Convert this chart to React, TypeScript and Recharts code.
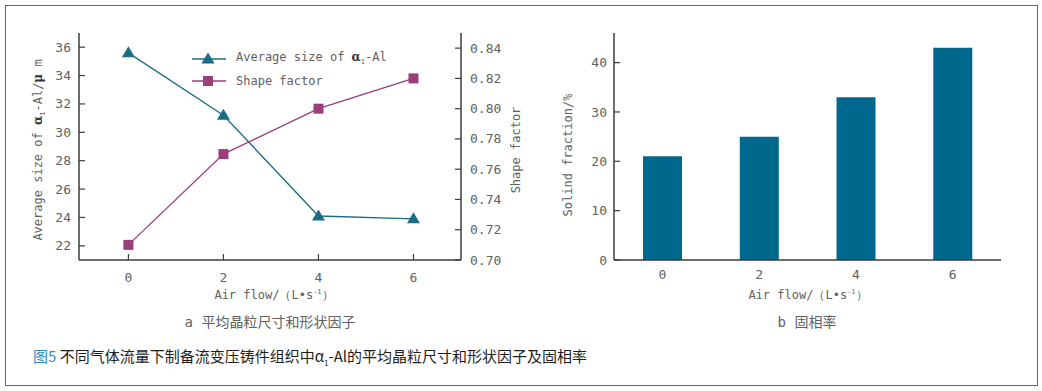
import React from "react";
import { ComposedChart, Line, BarChart, Bar, XAxis, YAxis, Legend } from "recharts";

// air flow, L/s
const airFlow = [0, 2, 4, 6];
// chart a
const avgGrainSize = [35.6, 31.2, 24.1, 23.9];
const shapeFactor = [0.71, 0.77, 0.8, 0.82];
// chart b
const solidFraction = [21, 25, 33, 43];

const flowTicks = [0, 2, 4, 6];
const sizeTicks = [22, 24, 26, 28, 30, 32, 34, 36];
const shapeTicks = [0.7, 0.72, 0.74, 0.76, 0.78, 0.8, 0.82, 0.84];
const fractionTicks = [0, 10, 20, 30, 40];

const lineData = airFlow.map((f, i) => ({ flow: f, size: avgGrainSize[i], shape: shapeFactor[i] }));
const barData = airFlow.map((f, i) => ({ flow: String(f), solid: solidFraction[i] }));

const TEAL = "#1b6c86";
const PLUM = "#9b3e7a";
const BAR = "#00688c";
const FRAME = "#3d3d3d";
const TEXT = "#616161";
const MONO = "'DejaVu Sans Mono', monospace";
const CJK = "'Noto Sans CJK SC', sans-serif";

const frameLine = { stroke: FRAME, strokeWidth: 1.5 };

// ticks point into the plot, so draw line + label ourselves
function LeftTick(props: any) {
    const { x, y, payload, mark = 6, gap = 8, digits } = props;
    const label = digits != null ? Number(payload.value).toFixed(digits) : payload.value;
    return (
        <g>
            {mark > 0 && <line x1={x} y1={y} x2={x + mark} y2={y} stroke={FRAME} strokeWidth={1.2} />}
            <text x={x - gap} y={y} dy="0.35em" textAnchor="end" fill={TEXT} fontSize={13} fontFamily={MONO}>
                {label}
            </text>
        </g>
    );
}

function RightTick(props: any) {
    const { x, y, payload, mark = 6, gap = 9, digits } = props;
    const label = digits != null ? Number(payload.value).toFixed(digits) : payload.value;
    return (
        <g>
            <line x1={x - mark} y1={y} x2={x} y2={y} stroke={FRAME} strokeWidth={1.2} />
            <text x={x + gap} y={y} dy="0.35em" textAnchor="start" fill={TEXT} fontSize={13} fontFamily={MONO}>
                {label}
            </text>
        </g>
    );
}

function BottomTick(props: any) {
    const { x, y, payload, mark = 6, gap = 17 } = props;
    return (
        <g>
            {mark > 0 && <line x1={x} y1={y} x2={x} y2={y - mark} stroke={FRAME} strokeWidth={1.2} />}
            <text x={x} y={y + gap} dy="0.35em" textAnchor="middle" fill={TEXT} fontSize={13} fontFamily={MONO}>
                {payload.value}
            </text>
        </g>
    );
}

// axis titles at fixed spots in the chart's svg
function VTitle({ px, py, children }: any) {
    return (
        <text
            x={px}
            y={py}
            dy="0.35em"
            textAnchor="middle"
            transform={`rotate(-90 ${px} ${py})`}
            fill={TEXT}
            fontSize={12}
            fontFamily={MONO}
        >
            {children}
        </text>
    );
}

function FlowTitle({ px, py }: any) {
    return (
        <text x={px} y={py} dy="0.35em" textAnchor="middle" fill={TEXT} fontSize={12} fontFamily={MONO}>
            Air flow/（L•s
            <tspan fontSize={7} dy={-5}>-1</tspan>
            <tspan dy={5}>）</tspan>
        </text>
    );
}

const triangle = (cx: number, cy: number) =>
    `M${cx},${cy - 6.5} L${cx + 6.5},${cy + 4.5} L${cx - 6.5},${cy + 4.5} Z`;

function TriangleDot(props: any) {
    const { cx, cy, index } = props;
    if (cx == null || cy == null) return <g key={`t${index}`} />;
    return <path key={`t${index}`} d={triangle(cx, cy)} fill={TEAL} />;
}

function SquareDot(props: any) {
    const { cx, cy, index } = props;
    if (cx == null || cy == null) return <g key={`s${index}`} />;
    return <rect key={`s${index}`} x={cx - 5} y={cy - 5} width={10} height={10} fill={PLUM} />;
}

function LegendBox() {
    const row: React.CSSProperties = { display: "flex", alignItems: "center", height: 22.7 };
    return (
        <div style={{ fontFamily: MONO, fontSize: 12, color: TEXT, whiteSpace: "nowrap" }}>
            <div style={row}>
                <svg width={36} height={14}>
                    <line x1={0} y1={8} x2={34} y2={8} stroke={TEAL} strokeWidth={1.3} />
                    <path d={triangle(16, 8)} fill={TEAL} />
                </svg>
                <span style={{ marginLeft: 8 }}>
                    Average size of <b style={{ fontFamily: "'DejaVu Serif', serif", color: "#333" }}>α</b>
                    <span style={{ fontSize: 7, verticalAlign: "sub" }}>1</span>-Al
                </span>
            </div>
            <div style={row}>
                <svg width={36} height={14}>
                    <line x1={0} y1={7} x2={34} y2={7} stroke={PLUM} strokeWidth={1.3} />
                    <rect x={11} y={2} width={10} height={10} fill={PLUM} />
                </svg>
                <span style={{ marginLeft: 8 }}>Shape factor</span>
            </div>
        </div>
    );
}

function SizeShapeChart() {
    return (
        <ComposedChart width={530} height={312} data={lineData} margin={{ top: 33, right: 0, bottom: 0, left: 0 }}>
            <XAxis
                dataKey="flow"
                type="number"
                domain={[-1.04, 7]}
                ticks={flowTicks}
                interval={0}
                height={52}
                axisLine={frameLine}
                tickLine={false}
                tickSize={0}
                tickMargin={0}
                tick={<BottomTick />}
                label={<FlowTitle px={274} py={295} />}
            />
            {/* top edge of the frame */}
            <XAxis
                xAxisId="top"
                orientation="top"
                type="number"
                domain={[-1.04, 7]}
                height={0}
                axisLine={frameLine}
                tick={false}
                tickLine={false}
            />
            <YAxis
                yAxisId="size"
                domain={[21, 37]}
                ticks={sizeTicks}
                interval={0}
                width={79}
                axisLine={frameLine}
                tickLine={false}
                tickSize={0}
                tickMargin={0}
                tick={<LeftTick />}
                label={
                    <VTitle px={38} py={150}>
                        Average size of{" "}
                        <tspan fontWeight="bold" fontFamily="'DejaVu Serif', serif" fill="#333">α</tspan>
                        <tspan fontSize={7} dy={3}>1</tspan>
                        <tspan dy={-3}>-Al/</tspan>
                        <tspan fontWeight="bold" fontFamily="'DejaVu Serif', serif" fill="#333">μ</tspan>
                        <tspan> m</tspan>
                    </VTitle>
                }
            />
            <YAxis
                yAxisId="shape"
                orientation="right"
                domain={[0.7, 0.85]}
                ticks={shapeTicks}
                interval={0}
                width={69}
                axisLine={frameLine}
                tickLine={false}
                tickSize={0}
                tickMargin={0}
                tick={<RightTick digits={2} />}
                label={<VTitle px={516} py={150}>Shape factor</VTitle>}
            />
            <Legend
                layout="vertical"
                align="center"
                verticalAlign="middle"
                content={<LegendBox />}
                wrapperStyle={{ left: 192, top: 47, width: "auto", height: "auto" }}
            />
            <Line
                yAxisId="size"
                dataKey="size"
                stroke={TEAL}
                strokeWidth={1.3}
                dot={(p: any) => <TriangleDot {...p} key={`t${p.index}`} />}
                activeDot={false}
                isAnimationActive={false}
            />
            <Line
                yAxisId="shape"
                dataKey="shape"
                stroke={PLUM}
                strokeWidth={1.3}
                dot={(p: any) => <SquareDot {...p} key={`s${p.index}`} />}
                activeDot={false}
                isAnimationActive={false}
            />
        </ComposedChart>
    );
}

function SolidFractionChart() {
    return (
        <BarChart width={522} height={312} data={barData} barCategoryGap="30%" margin={{ top: 33, right: 41, bottom: 0, left: 0 }}>
            <XAxis
                dataKey="flow"
                height={52}
                interval={0}
                axisLine={frameLine}
                tickLine={false}
                tickSize={0}
                tickMargin={0}
                tick={<BottomTick mark={0} gap={14} />}
                label={<FlowTitle px={288} py={295} />}
            />
            <XAxis xAxisId="top" orientation="top" dataKey="flow" height={0} axisLine={frameLine} tick={false} tickLine={false} />
            <YAxis
                domain={[0, 46]}
                ticks={fractionTicks}
                interval={0}
                width={94}
                axisLine={frameLine}
                tickLine={false}
                tickSize={0}
                tickMargin={0}
                tick={<LeftTick gap={7} />}
                label={<VTitle px={48} py={155}>Solind fraction/%</VTitle>}
            />
            <YAxis yAxisId="edge" orientation="right" domain={[0, 1]} width={0} axisLine={frameLine} tick={false} tickLine={false} />
            <Bar dataKey="solid" fill={BAR} isAnimationActive={false} />
        </BarChart>
    );
}

export default function App() {
    const sub: React.CSSProperties = {
        position: "absolute",
        top: 312,
        lineHeight: "20px",
        fontSize: 14,
        color: TEXT,
        textAlign: "center",
        fontFamily: `${MONO}, ${CJK}`,
    };
    return (
        <div style={{ position: "absolute", left: 0, top: 0, width: 1042, height: 391, background: "#fff", overflow: "hidden" }}>
            <div
                style={{
                    position: "absolute",
                    left: 5,
                    top: 5,
                    width: 1033,
                    height: 381,
                    boxSizing: "border-box",
                    border: "1.5px solid #2d7d8d",
                }}
            />
            <div style={{ position: "absolute", left: 0, top: 0 }}>
                <SizeShapeChart />
            </div>
            <div style={{ position: "absolute", left: 520, top: 0 }}>
                <SolidFractionChart />
            </div>
            <div style={{ ...sub, left: 0, width: 540 }}>a 平均晶粒尺寸和形状因子</div>
            <div style={{ ...sub, left: 707, width: 200 }}>b 固相率</div>
            <div
                style={{
                    position: "absolute",
                    left: 33,
                    top: 346,
                    lineHeight: "20px",
                    fontSize: 15,
                    color: "#1e1e1e",
                    fontFamily: CJK,
                    whiteSpace: "nowrap",
                }}
            >
                <span style={{ color: "#2f8bbf" }}>图5</span> 不同气体流量下制备流变压铸件组织中α
                <span style={{ fontSize: 8, verticalAlign: "sub" }}>1</span>-Al的平均晶粒尺寸和形状因子及固相率
            </div>
        </div>
    );
}
